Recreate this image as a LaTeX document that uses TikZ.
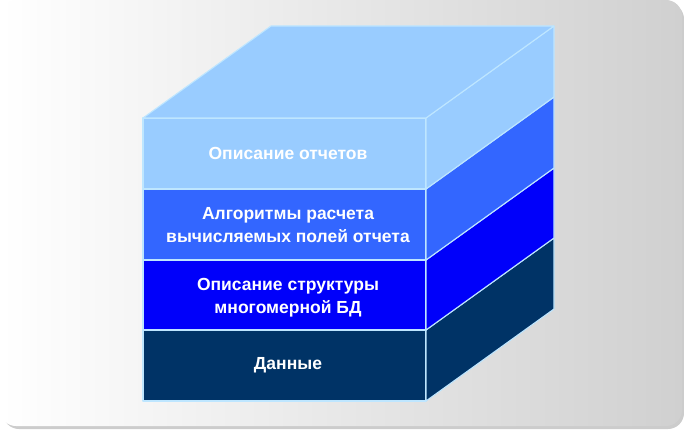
\documentclass[tikz,border=0pt]{standalone}
\usepackage{fontspec}
\setmainfont{Liberation Sans}
\begin{document}
\begin{tikzpicture}[x=1pt,y=1pt,
  edge/.style={draw={rgb,255:red,190;green,230;blue,255},line width=1.1pt,line join=round},
  lbl/.style={text=white,font=\bfseries\fontsize{17.5}{23}\selectfont,align=center}]
\definecolor{lyrA}{RGB}{153,204,255}
\definecolor{lyrB}{RGB}{51,102,255}
\definecolor{lyrC}{RGB}{0,0,250}
\definecolor{lyrD}{RGB}{0,51,102}
\useasboundingbox (0,0) rectangle (684,429);
% background
\fill[gray!40,rounded corners=16pt] (3,0) rectangle (684,426);
\shade[left color=white,right color={rgb,255:red,208;green,208;blue,208},rounded corners=16pt] (0,3) rectangle (682,429);
% geometry: front face x 143..426, y (429-401)=28 .. (429-118)=311; depth (128,92)
\def\dx{128}\def\dy{92}
% layers bottom to top: boundaries at y=28,99,169,240,311
\foreach \ya/\yb/\c in {28/99/lyrD,99/169/lyrC,169/240/lyrB,240/311/lyrA}{
  \filldraw[edge,fill=\c] (143,\ya) rectangle (426,\yb);
  \filldraw[edge,fill=\c] (426,\ya) -- (426+\dx,\ya+\dy) -- (426+\dx,\yb+\dy) -- (426,\yb) -- cycle;
}
\filldraw[edge,fill=lyrA] (143,311) -- (143+\dx,311+\dy) -- (426+\dx,311+\dy) -- (426,311) -- cycle;
\node[lbl] (t1) at (288,276) {Описание отчетов};
\node[lbl] (t2) at (288,203.5) {Алгоритмы расчета\\вычисляемых полей отчета};
\node[lbl] (t3) at (288,131.5) {Описание структуры\\многомерной БД};
\node[lbl] (t4) at (288,64) {Данные};
\end{tikzpicture}
\end{document}
